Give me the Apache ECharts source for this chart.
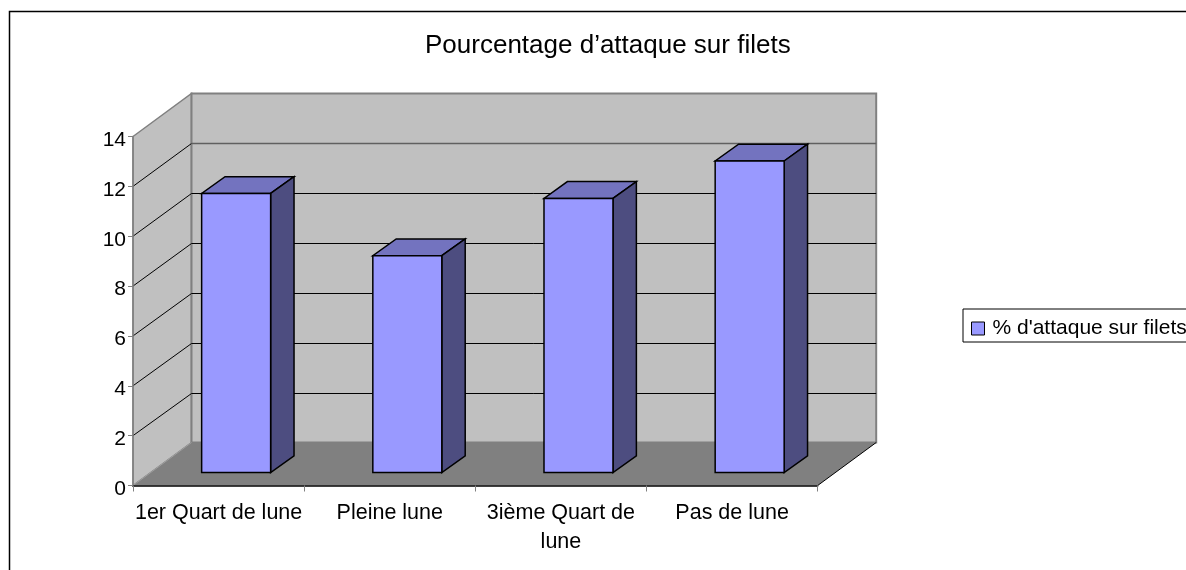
<!DOCTYPE html>
<html><head><meta charset="utf-8">
<style>html,body{margin:0;padding:0;background:#fff}#c{width:1186px;height:570px}</style>
<script src="https://cdn.jsdelivr.net/npm/echarts@6/dist/echarts.min.js"></script>
</head><body><div id="c"></div>
<script>
const categories = ['1er Quart de lune', 'Pleine lune', '3ième Quart de lune', 'Pas de lune'];
const values = [11.2, 8.7, 11, 12.5];
const yTicks = [2, 4, 6, 8, 10, 12, 14];
const seriesName = "% d'attaque sur filets";
const titleText = 'Pourcentage d’attaque sur filets';

const DX = 58.5, DY = 43, FONT = '"Liberation Sans", Arial, sans-serif';
const poly = (points, fill, stroke, lw) => ({type:'polygon', shape:{points}, style:{fill, stroke, lineWidth:lw}});
const line = (a, b, stroke, lw) => ({type:'line', shape:{x1:a[0],y1:a[1],x2:b[0],y2:b[1]}, style:{stroke, lineWidth:lw}});

function renderWalls(params, api) {
  const cs = params.coordSys, L = cs.x, R = cs.x + cs.width;
  const y0 = api.coord([0, 0])[1], yT = api.coord([0, 14])[1];
  const kids = [
    poly([[L,yT],[L+DX,yT-DY],[L+DX,y0-DY],[L,y0]], '#C0C0C0', '#808080', 1.5),
    poly([[L+DX,yT-DY],[R+DX,yT-DY],[R+DX,y0-DY],[L+DX,y0-DY]], '#C0C0C0', '#808080', 2),
    poly([[L,y0],[L+DX,y0-DY],[R+DX,y0-DY],[R,y0]], '#808080', null, 0),
    line([L,y0],[L+DX,y0-DY],'#A0A0A0',1),
    line([R,y0],[R+DX,y0-DY],'#000',1)
  ];
  yTicks.forEach(t => {
    const y = api.coord([0, t])[1];
    if (t < 14) {
      const back = Math.round(y - DY) + 0.5;
      kids.push(line([L,y],[L+DX,back],'#000',1));
      kids.push(line([L+DX,back],[R+DX,back], t === 12 ? '#606060' : '#000', t === 12 ? 1.5 : 1));
    }
  });
  return {type:'group', children:kids};
}

function renderBar(params, api) {
  const c = api.value(0), v = api.value(1);
  const band = api.size([1,0])[0], w = band * 0.403;
  const cx = api.coord([c, 0])[0] + DX * 0.3;
  const yb = api.coord([c, 0])[1] - DY * 0.3;
  const yt = yb - (api.coord([c, 0])[1] - api.coord([c, v])[1]);
  const l = cx - w / 2, r = cx + w / 2, ox = DX * 0.4, oy = DY * 0.39;
  return {type:'group', children:[
    poly([[l,yt],[r,yt],[r+ox,yt-oy],[l+ox,yt-oy]], '#7373BF', '#000', 1.5),
    poly([[r,yt],[r+ox,yt-oy],[r+ox,yb-oy],[r,yb]], '#4D4D80', '#000', 1.5),
    poly([[l,yt],[r,yt],[r,yb],[l,yb]], '#9999FF', '#000', 1.5)
  ]};
}

const chart = echarts.init(document.getElementById('c'), null, {renderer:'canvas'});
chart.setOption({
  animation:false,
  backgroundColor:'#fff',
  title:{text:titleText, left:425, top:33, padding:0,
    textStyle:{fontFamily:FONT, fontSize:26, fontWeight:'normal', color:'#000'}},
  legend:{left:963, top:309, orient:'horizontal', padding:[9,4,3,8], itemWidth:13, itemHeight:13, itemGap:0,
    borderColor:'#000', borderWidth:1, backgroundColor:'#fff', selectedMode:false,
    data:[{name:seriesName, icon:'rect', itemStyle:{color:'#9999FF', borderColor:'#000', borderWidth:1}}],
    textStyle:{fontFamily:FONT, fontSize:21, color:'#000', padding:[0,0,0,3]}},
  grid:{left:133, right:368.3, top:136.5, height:349, containLabel:false},
  xAxis:{type:'category', data:categories, z:3,
    axisLine:{lineStyle:{color:'#000', width:1.5}},
    axisTick:{show:true, length:6, lineStyle:{color:'#808080', width:1}},
    axisLabel:{interval:0, margin:13, lineHeight:29, color:'#000', fontFamily:FONT, fontSize:21.5,
      formatter:v => v.length > 17 ? v.replace(' de lune', ' de\nlune') : v}},
  yAxis:{type:'value', min:0, max:14, interval:2, z:3,
    axisLine:{show:true, lineStyle:{color:'#808080', width:1.5}},
    axisTick:{show:true, length:5, lineStyle:{color:'#808080', width:1}},
    axisLabel:{margin:7, color:'#000', fontFamily:FONT, fontSize:21, verticalAlign:'top', lineHeight:7},
    splitLine:{show:false}},
  graphic:[{type:'polyline', silent:true, z:10, shape:{points:[[9.5,570],[9.5,11.5],[1186,11.5]]},
    style:{fill:null, stroke:'#000', lineWidth:1.5}}],
  series:[
    {type:'custom', name:'walls', z:1, silent:true, clip:false, renderItem:renderWalls, data:[[0,0]], encode:{x:0,y:1}},
    {type:'custom', name:seriesName, z:2, silent:true, clip:false, renderItem:renderBar,
      itemStyle:{color:'#9999FF'}, data:values.map((v,i)=>[i,v]), encode:{x:0,y:1}}
  ]
});
</script></body></html>
